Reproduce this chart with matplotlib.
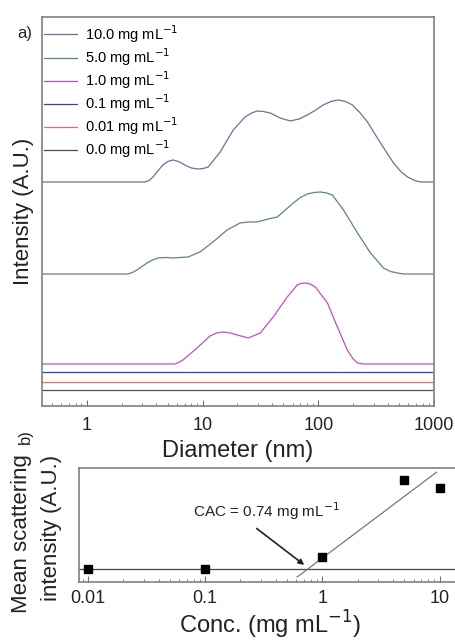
import numpy as np
import matplotlib
matplotlib.use("Agg")
import matplotlib.pyplot as plt

plt.rcParams['font.family'] = ['Liberation Sans', 'DejaVu Sans']

# a) size distributions (diameter in nm, height in A.U.)
d_10 = [0.4, 3.18, 3.45, 3.73, 4.1, 4.55, 5.0, 5.55, 6.2, 7.05, 8.0, 9.14, 10.1, 11.2, 14.2,
        18.4, 23.3, 26.5, 29.6, 33.5, 38.4, 46.9, 57.3, 68, 80.3, 95, 110, 128, 149, 172,
        197, 230, 266, 344, 446, 520, 590, 680, 764, 1000]
h_10 = [0, 0, 1.5, 5, 11, 17, 20.5, 22, 20.5, 17, 14, 13, 13.5, 15, 30,
        52, 65, 69, 71, 70.5, 69, 64, 61, 63, 67, 72, 77, 80.5, 82, 80.5,
        77, 69, 60, 39, 19, 10, 5, 1.5, 0, 0]

d_5 = [0.4, 2.26, 2.48, 2.71, 3.31, 3.7, 4.12, 4.8, 5.55, 7.49, 9.51, 12.3, 16.3, 21.1,
       25, 29.6, 36.9, 44.2, 60.8, 70, 80.3, 92, 104, 118, 132, 165, 218, 282, 365,
       420, 483, 544, 1000]
h_5 = [0, 0, 1.5, 4, 11, 14, 16, 16.5, 16, 17, 22, 32, 44, 51,
       52, 52, 55, 57, 71, 76.5, 80, 81.5, 82, 81, 79, 64, 41, 21, 6,
       2.5, 1, 0, 0]

d_1 = [0.4, 5.78, 6.2, 6.78, 8.96, 11.6, 13.2, 15.0, 17.3, 19.9, 24.8, 31.5, 40.8, 53.9,
       65.8, 71, 77.2, 85, 94.2, 120, 146, 178, 200, 218, 245, 1000]
h_1 = [0, 0, 1.5, 4, 16, 28, 31, 32, 31, 29, 26, 31, 47, 67,
       79, 80.5, 81, 80, 77, 61, 37, 14, 5, 1, 0, 0]

d_flat = [0.4, 1000]
h_flat = [0, 0]

labels = ['10.0 mg mL$^{-1}$', '5.0 mg mL$^{-1}$', '1.0 mg mL$^{-1}$',
          '0.1 mg mL$^{-1}$', '0.01 mg mL$^{-1}$', '0.0 mg mL$^{-1}$']
offsets = [224, 132, 42, 34, 24, 16]
colors = ['#6f6f9c', '#5f8a5f', '#c24fc2', '#3b3bc4', '#e86a6a', '#505050']

# b) mean scattering intensity vs concentration
conc = [0.01, 0.1, 1, 5, 10]
scatter_int = [0.114, 0.114, 0.22, 0.90, 0.83]
base_level = 0.114
fit_x = [0.609, 9.42]
fit_y = [0.044, 0.965]
cac = 0.74

fig = plt.figure(figsize=(4.56, 6.44), dpi=100)
ax1 = fig.add_axes([0.092, 0.3696, 0.86, 0.604])
ax2 = fig.add_axes([0.173, 0.0963, 0.84, 0.1767])

curves = [(d_10, h_10), (d_5, h_5), (d_1, h_1), (d_flat, h_flat), (d_flat, h_flat), (d_flat, h_flat)]
for (d, h), off, c, lab in zip(curves, offsets, colors, labels):
    ax1.plot(d, np.array(h) + off, color=c, lw=0.9, label=lab,
             solid_joinstyle='round')

ax1.set_xscale('log')
ax1.set_xlim(0.41, 1000)
ax1.set_ylim(0, 389)
ax1.set_yticks([])
ax1.set_xticks([1, 10, 100, 1000])
ax1.set_xticklabels(['1', '10', '100', '1000'])
ax1.tick_params(axis='x', which='both', direction='in', top=False, colors='#707070',
                labelcolor='#222222', labelsize=13, pad=8)
ax1.tick_params(axis='x', which='major', length=4)
ax1.tick_params(axis='x', which='minor', length=2)
ax1.set_xlabel('Diameter (nm)', fontsize=17, color='#222222', labelpad=4)
ax1.set_ylabel('Intensity (A.U.)', fontsize=16, color='#222222', labelpad=6)
ax1.legend(loc='upper left', frameon=False, fontsize=10.5, handlelength=2.3,
           handletextpad=0.5, labelspacing=0.1, borderaxespad=0.0,
           bbox_to_anchor=(-0.01, 1.0))
fig.text(0.055, 0.948, 'a)', fontsize=12, color='#222222', ha='center', va='center')

for ax in (ax1, ax2):
    for s in ax.spines.values():
        s.set_color('#808080')
        s.set_linewidth(1.2)

ax2.set_xscale('log')
ax2.set_xlim(0.00836, 15.5)
ax2.set_ylim(0, 1)
ax2.axhline(base_level, color='#444444', lw=0.9)
ax2.plot(fit_x, fit_y, color='#777777', lw=0.9)
ax2.plot(conc, scatter_int, 's', color='black', ms=6)
ax2.text(0.33, 0.62, 'CAC = %.2f mg mL$^{-1}$' % cac, ha='center', va='center',
         fontsize=11, color='#222222')
ax2.annotate('', xy=(0.70, 0.15), xytext=(0.275, 0.47),
             arrowprops=dict(arrowstyle='-|>', color='#222222', lw=1.2,
                             shrinkA=0, shrinkB=0, mutation_scale=8))
ax2.set_yticks([])
ax2.set_xticks([0.01, 0.1, 1, 10])
ax2.set_xticklabels(['0.01', '0.1', '1', '10'])
ax2.tick_params(axis='x', which='both', direction='in', top=False, colors='#707070',
                labelcolor='#222222', labelsize=13, pad=6)
ax2.tick_params(axis='x', which='major', length=4)
ax2.tick_params(axis='x', which='minor', length=2)
ax2.set_xlabel('Conc. (mg mL$^{-1}$)', fontsize=17, color='#222222', labelpad=1)
fig.text(0.048, 0.172, 'Mean scattering', rotation=90, fontsize=16, color='#222222',
         ha='center', va='center')
fig.text(0.114, 0.180, 'intensity (A.U.)', rotation=90, fontsize=16, color='#222222',
         ha='center', va='center')
fig.text(0.055, 0.322, 'b)', rotation=90, fontsize=12, color='#222222',
         ha='center', va='center')

fig.savefig('out.png', dpi=100)
